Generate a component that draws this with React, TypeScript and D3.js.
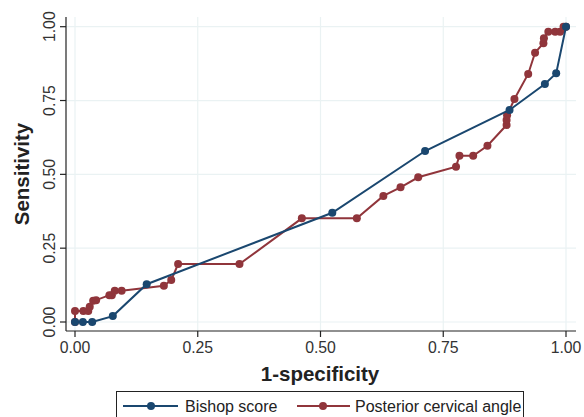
import React from "react";
import * as d3 from "d3";

const bishopX = [0, 0.016, 0.035, 0.077, 0.146, 0.524, 0.713, 0.885, 0.957, 0.98, 1.0];
const bishopY = [0, 0, 0, 0.02, 0.128, 0.37, 0.579, 0.718, 0.806, 0.842, 1.0];

const angleX = [0, 0, 0.017, 0.027, 0.03, 0.037, 0.043, 0.07, 0.075, 0.081, 0.095, 0.181, 0.196, 0.21, 0.335, 0.462, 0.574, 0.628, 0.663, 0.699, 0.776, 0.783, 0.811, 0.84, 0.879, 0.879, 0.88, 0.895, 0.923, 0.937, 0.954, 0.955, 0.964, 0.978, 0.988, 0.995, 1.0];
const angleY = [0, 0.037, 0.037, 0.037, 0.052, 0.072, 0.074, 0.091, 0.091, 0.106, 0.106, 0.123, 0.142, 0.196, 0.196, 0.351, 0.351, 0.427, 0.456, 0.49, 0.526, 0.563, 0.563, 0.597, 0.667, 0.684, 0.70, 0.755, 0.84, 0.912, 0.944, 0.961, 0.983, 0.983, 0.983, 1.0, 1.0];

const xTicks = [0, 0.25, 0.5, 0.75, 1.0];
const yTicks = [0, 0.25, 0.5, 0.75, 1.0];
const seriesNames = ["Bishop score", "Posterior cervical angle"];

const BLUE = "#1a476f";
const RED = "#90353b";
const GRID = "#eaf2f3";
const FONT = "Liberation Sans, Arial, sans-serif";

export default function App() {
  const W = 584, H = 417;
  const x = d3.scaleLinear().domain([0, 1]).range([75, 566]);
  const y = d3.scaleLinear().domain([0, 1]).range([322, 26.7]);
  const left = 66, right = 576, top = 17, bottom = 331;
  const line = d3.line<[number, number]>().x(d => x(d[0])).y(d => y(d[1]));
  const bPts: [number, number][] = bishopX.map((v, i) => [v, bishopY[i]]);
  const aPts: [number, number][] = angleX.map((v, i) => [v, angleY[i]]);
  const fmt = d3.format(".2f");
  return (
    <svg width={W} height={H} style={{ position: "absolute", left: 0, top: 0 }} fontFamily={FONT}>
      <rect width={W} height={H} fill="#fff" />
      {xTicks.map(t => (
        <line key={"gx" + t} x1={x(t)} x2={x(t)} y1={top} y2={bottom} stroke={GRID} strokeWidth={1.2} />
      ))}
      {yTicks.map(t => (
        <line key={"gy" + t} x1={left} x2={right} y1={y(t)} y2={y(t)} stroke={GRID} strokeWidth={1.2} />
      ))}
      <line x1={left} x2={left} y1={top} y2={bottom} stroke="#222" strokeWidth={1.2} />
      <line x1={left} x2={right} y1={bottom} y2={bottom} stroke="#222" strokeWidth={1.2} />
      {xTicks.map(t => (
        <g key={"tx" + t}>
          <line x1={x(t)} x2={x(t)} y1={bottom} y2={bottom + 6} stroke="#222" strokeWidth={1.2} />
          <text x={x(t)} y={353} textAnchor="middle" fontSize={15.8} fill="#333">{fmt(t)}</text>
        </g>
      ))}
      {yTicks.map(t => (
        <g key={"ty" + t}>
          <line x1={left - 6} x2={left} y1={y(t)} y2={y(t)} stroke="#222" strokeWidth={1.2} />
          <text transform={`translate(54.5,${y(t)}) rotate(-90)`} textAnchor="middle" fontSize={15.8} fill="#333">{fmt(t)}</text>
        </g>
      ))}
      <text x={320} y={381} textAnchor="middle" fontSize={20.5} fontWeight="bold" fill="#222">1-specificity</text>
      <text transform={`translate(29,174) rotate(-90)`} textAnchor="middle" fontSize={20.5} fontWeight="bold" fill="#222">Sensitivity</text>

      <path d={line(aPts) || ""} fill="none" stroke={RED} strokeWidth={2} />
      {aPts.map((p, i) => (
        <circle key={"a" + i} cx={x(p[0])} cy={y(p[1])} r={4} fill={RED} />
      ))}
      <path d={line(bPts) || ""} fill="none" stroke={BLUE} strokeWidth={2} />
      {bPts.map((p, i) => (
        <circle key={"b" + i} cx={x(p[0])} cy={y(p[1])} r={4} fill={BLUE} />
      ))}

      <rect x={116.5} y={391.5} width={407} height={40} fill="#fff" stroke="#222" strokeWidth={1} />
      <line x1={123} x2={178} y1={406} y2={406} stroke={BLUE} strokeWidth={2} />
      <circle cx={151} cy={406} r={4} fill={BLUE} />
      <text x={185} y={411.5} fontSize={16} fill="#222">{seriesNames[0]}</text>
      <line x1={297} x2={350} y1={406} y2={406} stroke={RED} strokeWidth={2} />
      <circle cx={323} cy={406} r={4} fill={RED} />
      <text x={355} y={411.5} fontSize={16} fill="#222">{seriesNames[1]}</text>
    </svg>
  );
}
